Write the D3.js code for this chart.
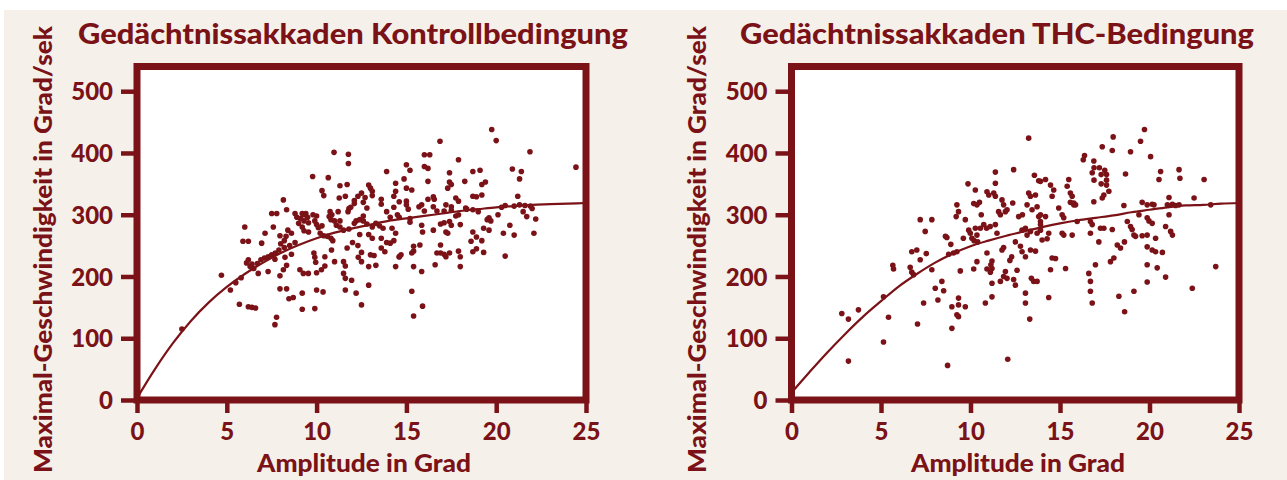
<!DOCTYPE html>
<html>
<head>
<meta charset="utf-8">
<script src="https://cdn.jsdelivr.net/npm/d3@7"></script>
<style>
  body { margin: 0; background: #fff; }
  svg { display: block; }
</style>
</head>
<body>
<div id="chart"></div>
<script>
// ---- data ----
const xTicks = [0, 5, 10, 15, 20, 25];
const yTicks = [0, 100, 200, 300, 400, 500];
const titles = ["Gedächtnissakkaden Kontrollbedingung", "Gedächtnissakkaden THC-Bedingung"];
const xLabel = "Amplitude in Grad";
const yLabel = "Maximal-Geschwindigkeit in Grad/sek";

// fitted curve, read at whole degrees
const curveX    = [0,1,2,3,4,5,6,7,8,9,10,11,12,13,14,15,16,17,18,19,20,21,22,23,24,25];
const ctrlCurveY = [3,50,92,128,158,183,204,222,238,251,262,271,278,284,290,294,298,302,306,309,312,314,316,317,318,319];
const thcCurveY  = [12,45,77,107,135,160,184,204,222,237,249,258,266,273,280,286,291,295,299,304,308,312,315,316,318,319];

// [amplitude, peak velocity]
const ctrlPoints = [
  [2.5,115],[4.7,202],[5.2,178],[5.5,190],[5.8,198],[6.0,280],[5.9,257],[6.2,257],[5.7,155],[6.2,151],[6.4,150],[6.6,149],
  [6.1,222],[6.2,227],[6.3,216],[6.4,220],[6.5,213],[6.7,221],[6.9,227],[7.1,230],[7.3,232],[7.5,235],[7.7,238],[7.9,243],
  [8.2,247],[8.5,250],[8.8,255],[6.75,205],[7.3,208],[7.96,201],[8.15,211],
  [7.13,270],[7.59,280],[7.5,302],[7.78,302],[8.15,324],[8.33,308],[7.96,266],[6.94,254],
  [7.68,228],[8.24,231],[8.6,236],[8.33,218],
  [7.96,180],[8.33,180],[8.46,164],[8.7,166],[7.77,134],[7.68,122],
  [9.2,147],[9.9,148],[9.2,173],[9.07,211],[9.26,205],[9.54,205],[10.0,206],[10.27,211],[10.46,217],[10.0,178],[10.36,175],
  [9.9,231],[9.95,223],[9.85,238],[10.46,232],[10.83,243],
  [11.5,224],[11.6,217],[11.5,205],[11.6,197],[11.0,224],[11.95,194],[12.2,173],[11.6,178],[12.5,154],[12.9,186],
  [12.5,224],[12.9,216],[13.3,218],[12.32,231],
  [12.5,239],[13.0,235],[13.2,234],[13.6,246],[13.8,240],[14.4,216],[14.6,232],[14.1,254],
  [9.78,362],[10.65,360],[10.97,401],[11.77,398],[11.77,383],[10.3,339],[10.4,331],[11.3,347],[11.7,349],[11.6,330],[11.26,327],
  [12.1,323],[12.3,330],[12.5,335],[12.7,328],[12.6,320],[12.9,348],[13.0,343],[13.1,338],[13.1,331],[13.6,325],[13.6,317],
  [13.9,370],[14.4,351],[14.4,338],
  [11.8,310],[11.75,305],[11.2,305],[10.75,305],[10.7,297],[10.85,300],
  [9.9,290],[10.0,284],[10.1,279],[10.3,282],[9.3,290],[9.55,287],[9.2,280],[9.3,274],[9.55,272],
  [8.9,296],[9.1,294],[9.0,286],[9.3,300],[8.8,302],[9.2,302],[9.4,302],[9.5,296],[9.8,300],[10.0,298],
  [8.4,275],[8.6,270],[8.3,265],[8.2,258],[8.0,253],
  [10.2,270],[10.4,266],[10.6,265],[10.8,262],[10.9,258],[11.1,283],[11.3,280],[11.5,275],[11.3,290],[11.0,290],[10.8,292],
  [11.8,277],[12.2,290],[12.4,292],[12.6,290],[12.8,285],[13.1,280],[13.3,286],[13.5,282],[13.7,278],
  [12.4,268],[12.9,268],[13.1,262],[13.6,262],[13.9,255],[14.3,258],[14.4,270],[14.2,278],
  [12.0,255],[12.3,250],[11.7,246],[14.5,300],[14.1,296],[13.9,305],[14.3,312],[14.6,321],[14.3,330],[12.8,311],[12.6,298],
  [12.1,286],[11.9,312],[12.1,318],
  [19.75,438],[20.0,420],[16.87,419],[21.88,402],[24.44,377],[16.0,397],[16.3,397],[17.9,389],[15.0,381],[15.2,372],
  [16.0,378],[16.2,375],[17.4,368],[18.7,370],[19.1,372],[20.9,374],[21.4,370],[21.3,358],[14.87,358],[16.2,354],
  [17.4,353],[17.5,349],[17.3,343],[18.25,354],[19.2,349],[19.4,353],[18.7,330],[18.9,329],[19.2,332],[15.0,343],[15.3,340],
  [16.5,329],[16.55,325],[16.2,325],[17.75,327],[17.9,322],[15.0,322],[15.0,316],[15.1,309],[15.7,313],[15.85,316],
  [16.5,313],[17.2,316],[17.5,313],[18.36,309],[18.7,308],[19.0,305],[20.5,315],[21.0,314],[21.3,316],[21.6,315],[21.9,314],
  [21.5,305],[21.7,297],[22.2,293],[16.0,306],[16.7,306],[17.1,306],[17.5,307],[14.6,296],[15.2,294],[15.2,288],[15.85,283],
  [15.9,272],[16.5,275],[16.9,285],[17.1,287],[17.4,289],[17.5,283],[17.2,272],[17.3,270],[17.75,298],[17.9,300],[18.7,272],
  [18.9,264],[19.3,278],[19.6,295],[19.5,292],[20.4,270],[21.0,267],[22.1,270],[20.76,283],[15.4,249],[15.4,241],[15.3,238],
  [15.75,251],[16.9,251],[14.6,232],[14.7,235],[16.7,238],[16.9,238],[17.1,236],[17.2,232],[17.4,238],[17.9,241],[18.0,232],
  [18.7,240],[19.3,239],[20.5,233],[15.4,216],[15.85,208],[16.6,219],[18.0,216],[15.3,176],[15.9,152],[15.4,136],
  [19.2,258],[18.6,257],[18.9,245],[19.6,275],[20.1,300],[21.2,330],[22.0,310],[18.3,311],[18.0,284],[19.7,290],[20.3,312]
];

const thcPoints = [
  [2.81,140],[3.18,131],[3.74,146],[3.18,63],[5.14,94],[5.42,134],[5.14,167],[5.66,218],[5.70,212],[7.04,123],[7.38,157],
  [6.72,240],[7.0,243],[6.63,215],[6.72,207],[6.82,203],[7.19,227],[7.53,237],[7.19,292],[7.84,292],[7.47,273],[8.03,181],
  [8.5,177],[8.4,192],[8.18,162],[7.84,211],[8.68,263],[8.6,265],[8.78,236],[9.05,238],[9.24,240],[9.43,209],[8.96,151],
  [9.33,154],[9.71,151],[9.33,165],[9.24,138],[9.33,135],[8.96,116],[8.72,56],[9.24,316],[9.33,305],[9.2,297],[9.86,350],
  [10.27,340],[10.36,316],[10.18,318],[10.5,320],[9.71,292],[9.9,275],[9.99,270],[10.27,278],[10.36,267],[10.08,262],
  [10.55,278],[10.74,284],[10.92,337],[11.02,332],[11.3,335],[11.39,330],[11.39,369],[11.39,351],[12.41,373],[13.25,424],
  [13.57,364],[13.81,355],[10.36,224],[10.18,212],[10.92,212],[11.11,207],[11.2,213],[10.92,238],[11.2,225],[11.14,219],
  [11.76,324],[11.85,316],[11.57,305],[11.67,300],[11.95,305],[12.04,308],[11.39,284],[11.48,270],[12.36,319],[12.69,297],
  [11.67,192],[11.85,200],[12.04,197],[11.95,208],[11.2,189],[11.76,243],[11.85,247],[10.83,157],[11.2,167],[12.41,195],
  [12.51,186],[12.08,66],[12.88,275],[13.07,278],[13.16,267],[13.35,273],[12.51,256],[12.79,249],[12.88,240],[13.07,232],
  [13.35,243],[13.63,241],[13.4,197],[13.53,192],[13.72,192],[13.07,173],[13.07,157],[13.31,131],[13.25,335],[13.35,330],
  [13.63,332],[13.16,316],[13.44,308],[13.72,313],[13.81,297],[13.91,289],[13.91,275],[13.72,270],
  [10.9,278],[11.1,281],[12.3,232],[12.2,226],[12.6,210],[10.2,258],[10.4,256],[8.9,252],[9.6,262],[10.6,300],[12.9,300],
  [19.72,438],[19.5,419],[17.97,426],[17.36,410],[17.92,404],[18.94,402],[20.06,394],[16.37,396],[16.89,387],[16.3,389],
  [16.9,376],[17.2,376],[17.5,372],[17.6,365],[17.6,356],[17.3,350],[16.9,356],[16.8,368],[17.3,365],[17.6,348],
  [17.73,338],[17.45,332],[17.36,327],[16.89,321],[18.66,366],[20.62,370],[20.53,357],[21.65,373],[21.7,359],[23.05,357],
  [22.49,327],[23.7,216],[22.39,181],
  [21.09,328],[21.0,316],[21.28,317],[21.46,315],[21.65,316],[19.59,320],[19.87,316],[20.15,317],[20.25,316],[18.57,315],[23.42,316],
  [21.09,300],[20.9,281],[21.18,273],[21.28,267],[19.87,295],[19.97,290],[20.15,286],[19.41,300],[18.76,289],[18.94,281],
  [19.03,276],[19.13,267],[19.22,265],[19.59,266],[19.87,267],[20.34,262],
  [19.87,248],[20.15,243],[20.34,240],[20.72,239],[19.87,219],[20.43,214],[20.9,199],[19.87,191],[19.13,176],[18.29,168],[18.61,143],
  [17.82,224],[18.01,230],[18.2,251],[18.38,246],[18.6,256],[17.92,276],[17.45,278],[17.17,256],[16.98,219],[16.61,205],
  [16.7,192],[16.7,176],[16.8,157],
  [15.31,213],[14.56,230],[14.75,229],[14.47,211],[14.37,166],[15.12,270],[15.21,267],[15.68,267],[16.7,270],[17.26,278],
  [15.96,289],[16.7,289],[16.8,284],[15.77,316],[15.58,320],[14.93,311],[15.12,300],[15.21,295],[14.37,270],[14.28,261],
  [13.91,284],[14.0,259],[14.19,297],[13.91,300],[14.56,330],[14.65,340],[14.47,348],[14.19,357],[13.91,354],[15.49,357],
  [15.4,346],[15.58,335],[15.68,330],[15.77,319],[15.87,316]
];

// ---- layout ----
const W = 1287, H = 480;
const RED = "#7a1217";
const FONT = "Lato, 'Open Sans', sans-serif";

const panels = [
  { title: titles[0], points: ctrlPoints, curveY: ctrlCurveY,
    x0: 137, x1: 586, titleX: 78, titleW: 550, yLabX: 52, xLabC: 364 },
  { title: titles[1], points: thcPoints, curveY: thcCurveY,
    x0: 791.5, x1: 1239, titleX: 740, titleW: 514, yLabX: 706, xLabC: 1018 }
];

const svg = d3.select("#chart").append("svg")
  .attr("width", W).attr("height", H);

svg.append("rect")
  .attr("x", 4).attr("y", 10)
  .attr("width", W - 4).attr("height", H - 10)
  .attr("fill", "#f5f1ea");

const y = d3.scaleLinear().domain([0, 540]).range([400, 66.5]);

panels.forEach(p => {
  const x = d3.scaleLinear().domain([0, 25]).range([p.x0, p.x1]);
  const g = svg.append("g");

  // plot area
  g.append("rect")
    .attr("x", x(0)).attr("y", y(540))
    .attr("width", x(25) - x(0)).attr("height", y(0) - y(540))
    .attr("fill", "#fff");

  // scatter
  g.append("g").selectAll("circle")
    .data(p.points)
    .join("circle")
      .attr("cx", d => x(d[0]))
      .attr("cy", d => y(d[1]))
      .attr("r", 2.8)
      .attr("fill", RED);

  // fitted curve
  const line = d3.line()
    .x(d => x(d[0]))
    .y(d => y(d[1]))
    .curve(d3.curveMonotoneX);
  g.append("path")
    .datum(curveX.map((v, i) => [v, p.curveY[i]]))
    .attr("d", line)
    .attr("fill", "none")
    .attr("stroke", RED)
    .attr("stroke-width", 2.2);

  // frame
  g.append("rect")
    .attr("x", x(0)).attr("y", y(540))
    .attr("width", x(25) - x(0)).attr("height", y(0) - y(540))
    .attr("fill", "none")
    .attr("stroke", RED)
    .attr("stroke-width", 7);

  // axes
  const ax = g.append("g")
    .attr("transform", `translate(0, ${y(0)})`)
    .call(d3.axisBottom(x).tickValues(xTicks).tickSize(13).tickPadding(10));
  const ay = g.append("g")
    .attr("transform", `translate(${x(0)}, 0)`)
    .call(d3.axisLeft(y).tickValues(yTicks).tickSize(16).tickPadding(8));

  [ax, ay].forEach(a => {
    a.select(".domain").remove();
    a.selectAll(".tick line").attr("stroke", RED).attr("stroke-width", 4.5);
    a.selectAll(".tick text")
      .attr("fill", RED)
      .style("font-family", FONT)
      .style("font-weight", "900")
      .style("font-size", "24px");
  });
  ay.selectAll(".tick text").attr("dy", "0.36em");

  // titles and labels
  g.append("text")
    .attr("x", p.titleX).attr("y", 44)
    .attr("textLength", p.titleW)
    .attr("lengthAdjust", "spacingAndGlyphs")
    .attr("fill", RED)
    .style("font-family", FONT).style("font-weight", "900").style("font-size", "28px")
    .text(p.title);

  g.append("text")
    .attr("x", p.xLabC).attr("y", 472)
    .attr("text-anchor", "middle")
    .attr("textLength", 214)
    .attr("lengthAdjust", "spacingAndGlyphs")
    .attr("fill", RED)
    .style("font-family", FONT).style("font-weight", "900").style("font-size", "25px")
    .text(xLabel);

  g.append("text")
    .attr("transform", `translate(${p.yLabX}, 473) rotate(-90)`)
    .attr("textLength", 447)
    .attr("lengthAdjust", "spacingAndGlyphs")
    .attr("fill", RED)
    .style("font-family", FONT).style("font-weight", "900").style("font-size", "25px")
    .text(yLabel);
});
</script>
</body>
</html>
